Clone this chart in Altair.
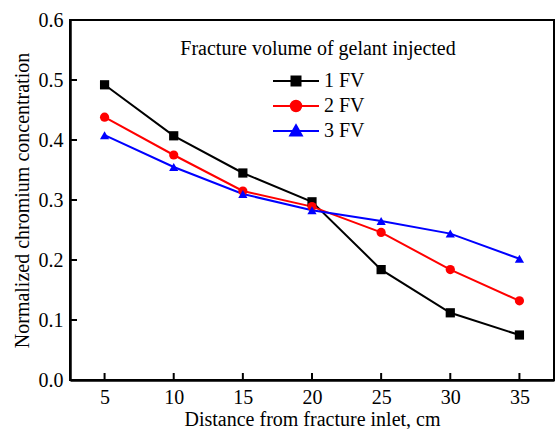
import altair as alt
import pandas as pd

distance = [5, 10, 15, 20, 25, 30, 35]
fv1 = [0.492, 0.407, 0.345, 0.297, 0.184, 0.112, 0.075]
fv2 = [0.438, 0.375, 0.315, 0.289, 0.246, 0.184, 0.132]
fv3 = [0.408, 0.355, 0.310, 0.283, 0.265, 0.244, 0.202]
series_names = ["1 FV", "2 FV", "3 FV"]
colors = ["#000000", "#ff0000", "#0000ff"]
x_ticks = [5, 10, 15, 20, 25, 30, 35]
y_ticks = [0.0, 0.1, 0.2, 0.3, 0.4, 0.5, 0.6]
legend_title = "Fracture volume of gelant injected"

rows = []
for name, vals in zip(series_names, [fv1, fv2, fv3]):
    for d, v in zip(distance, vals):
        rows.append({"distance": d, "value": v, "series": name})
df = pd.DataFrame(rows)

FONT = "Liberation Serif"
FS = 20
W, H = 484, 360

xscale = alt.Scale(domain=[2.5, 37.5], nice=False, zero=False)
yscale = alt.Scale(domain=[0, 0.6], nice=False)

xax = alt.Axis(values=x_ticks, tickSize=0, labelPadding=7, grid=False,
               title="Distance from fracture inlet, cm", titlePadding=2,
               domainWidth=2.5, domainColor="black")
yax = alt.Axis(values=y_ticks, format=".1f", tickSize=0, labelPadding=7, grid=False,
               title="Normalized chromium concentration", titlePadding=6,
               domainWidth=2.5, domainColor="black")

X = alt.X("distance:Q", scale=xscale, axis=xax)
Y = alt.Y("value:Q", scale=yscale, axis=yax)

cscale = alt.Scale(domain=series_names, range=colors)

lines = alt.Chart(df).mark_line(strokeWidth=2).encode(
    x=X, y=Y, color=alt.Color("series:N", scale=cscale, legend=None),
    detail="series:N")

points = alt.Chart(df).mark_point(filled=True, size=85, opacity=1).encode(
    x=X, y=Y,
    color=alt.Color("series:N", scale=cscale, legend=None),
    shape=alt.Shape("series:N", scale=alt.Scale(domain=series_names,
                    range=["square", "circle", "triangle-up"]), legend=None))

# legend glyphs: a line segment with the marker in its middle
paths = [
    "M-2.3,0L2.3,0M-0.45,-0.45L0.45,-0.45L0.45,0.45L-0.45,0.45Z",
    "M-2.3,0L2.3,0M-0.52,0A0.52,0.52 0 1,0 0.52,0A0.52,0.52 0 1,0 -0.52,0Z",
    "M-2.3,0L2.3,0M0,-0.58L0.58,0.45L-0.58,0.45Z",
]
leg = alt.Legend(title=None, orient="none", legendX=215, legendY=50, padding=0,
                 symbolSize=400, symbolStrokeWidth=2, labelFont=FONT,
                 labelFontSize=FS, labelColor="black", labelOffset=17,
                 rowPadding=4)
legend_layer = alt.Chart(df).mark_point(filled=True, opacity=1).encode(
    x=X, y=Y,
    color=alt.Color("series:N", scale=cscale, legend=leg),
    stroke=alt.Stroke("series:N", scale=cscale, legend=leg),
    shape=alt.Shape("series:N", scale=alt.Scale(domain=series_names, range=paths),
                    legend=leg),
).transform_filter("false")

title_layer = alt.Chart(pd.DataFrame({"t": [legend_title]})).mark_text(
    font=FONT, fontSize=FS, color="black", align="center", baseline="middle"
).encode(text="t:N", x=alt.value(248), y=alt.value(29))

xt = alt.Chart(pd.DataFrame({"t": x_ticks})).mark_rule(color="black", strokeWidth=2).encode(
    x=alt.X("t:Q", scale=xscale), y=alt.value(H), y2=alt.value(H - 7))
yt = alt.Chart(pd.DataFrame({"t": y_ticks})).mark_rule(color="black", strokeWidth=2).encode(
    y=alt.Y("t:Q", scale=yscale), x=alt.value(0), x2=alt.value(7))

chart = alt.layer(lines, points, legend_layer, title_layer, xt, yt).resolve_scale(
    color="independent", shape="independent", stroke="independent"
).properties(
    width=W, height=H, autosize=alt.AutoSizeParams(type="none"),
    padding={"left": 70, "top": 20, "right": 1, "bottom": 49},
    background="white",
).configure_view(stroke="black", strokeWidth=2).configure_axis(
    labelFont=FONT, labelFontSize=FS, labelColor="black",
    titleFont=FONT, titleFontSize=FS, titleColor="black", titleFontWeight="normal",
)

chart.save("out.html", embed_options={"renderer": "svg", "actions": False})
